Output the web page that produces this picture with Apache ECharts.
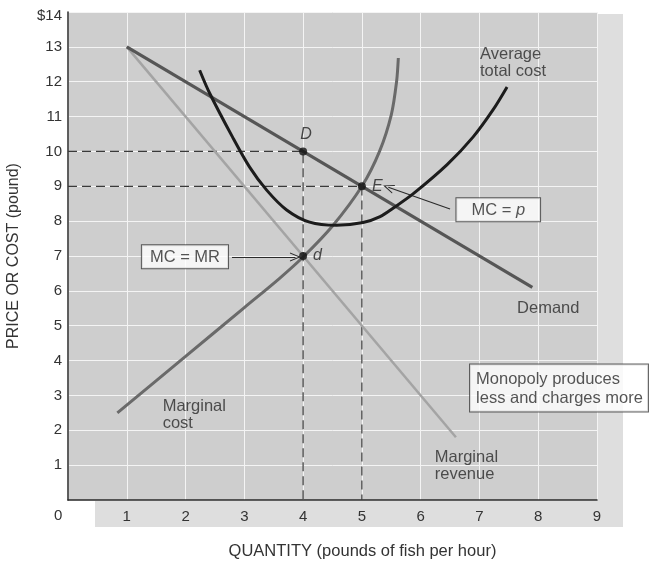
<!DOCTYPE html>
<html>
<head>
<meta charset="utf-8">
<script src="https://cdn.jsdelivr.net/npm/echarts@6/dist/echarts.min.js"></script>
<style>
html,body{margin:0;padding:0;background:#fff;}
#chart{width:653px;height:561px;}
</style>
</head>
<body>
<div id="chart"></div>
<script>
// ---- data ----
var xTicks = [0,1,2,3,4,5,6,7,8,9];
var yTicks = [0,1,2,3,4,5,6,7,8,9,10,11,12,13,14];
var demand = [[1,13],[7.9,6.1]];
var marginalRevenue = [[1,13],[6.6,1.8]];
var marginalCost = [[0.84,2.5],[2,4.12],[3,5.52],[3.6,6.36],[4,6.97],[4.5,7.86],[5,9.0],[5.3,10.0],[5.5,11.05],[5.59,12.0],[5.62,12.68]];
var averageTotalCost = [[2.24,12.33],[2.41,11.67],[2.8,10.41],[3.09,9.55],[3.38,8.89],[3.72,8.32],[4.11,7.97],[4.57,7.88],[5.02,7.96],[5.31,8.13],[5.53,8.37],[5.87,8.78],[6.45,9.62],[6.89,10.41],[7.23,11.19],[7.47,11.85]];
var keyPoints = [[4,10,'D'],[5,9,'E'],[4,7,'d']];
var monopolyGuide = [[0,10],[4,10],[4,0]];
var competitiveGuide = [[0,9],[5,9],[5,0]];
var curveLabels = [[7.01,12.55,'Average\ntotal cost'],[7.64,5.5,'Demand'],[1.61,2.45,'Marginal\ncost'],[6.24,0.97,'Marginal\nrevenue']];

var FONT = 'Liberation Sans, Arial, Helvetica, sans-serif';
var chevron = 'path://M0,12 L6,0 L12,12 L10.6,12 L6,2.8 L1.4,12 Z';

var chart = echarts.init(document.getElementById('chart'), null, {renderer:'canvas'});

var option = {
  animation: false,
  backgroundColor: '#ffffff',
  textStyle: {fontFamily: FONT},
  graphic: [
    {type:'rect', z:-10, silent:true, shape:{x:597,y:14,width:26,height:513}, style:{fill:'#dedede'}},
    {type:'rect', z:-10, silent:true, shape:{x:95,y:500,width:528,height:27}, style:{fill:'#dedede'}},
    {type:'text', left:54, top:508, style:{text:'0', font:'15px '+FONT, fill:'#333'}}
  ],
  grid: {left:68, right:56, top:12, bottom:61, show:true, backgroundColor:'#cecece', borderWidth:0, containLabel:false, outerBoundsMode:'none'},
  xAxis: {
    type:'value', min:0, max:9, interval:1,
    name:'QUANTITY (pounds of fish per hour)', nameLocation:'middle', nameGap:43,
    nameTextStyle:{fontSize:16.5, color:'#333', fontFamily:FONT, padding:[0,0,0,60]},
    axisLine:{show:true, onZero:false, lineStyle:{color:'#2a2a2a', width:1.5}},
    axisTick:{show:false},
    axisLabel:{fontSize:15, color:'#333', margin:9, formatter:function(v){return v===0?'':String(v);}},
    splitLine:{show:true, lineStyle:{color:'#f4f4f4', width:1}}
  },
  yAxis: {
    type:'value', min:0, max:14, interval:1,
    name:'PRICE OR COST (pound)', nameLocation:'middle', nameGap:46,
    nameTextStyle:{fontSize:16, color:'#333', fontFamily:FONT},
    axisLine:{show:true, onZero:false, lineStyle:{color:'#2a2a2a', width:1.5}},
    axisTick:{show:false},
    axisLabel:{fontSize:15, color:'#333', margin:6,
      formatter:function(v){return v===14?'{t|$14}':(v===0?'':String(v));},
      rich:{t:{fontSize:15, color:'#333', fontFamily:FONT, padding:[7,0,0,0]}}},
    splitLine:{show:true, lineStyle:{color:'#f4f4f4', width:1}}
  },
  series: [
    {type:'line', name:'monopoly guide', data:monopolyGuide, symbol:'none', silent:true,
     lineStyle:{color:'#3a3a3a', width:1.2, type:[9,5]}, z:2},
    {type:'line', name:'competitive guide', data:competitiveGuide, symbol:'none', silent:true,
     lineStyle:{color:'#3a3a3a', width:1.2, type:[9,5]}, z:2},
    {type:'line', name:'Marginal revenue', data:marginalRevenue, symbol:'none',
     lineStyle:{color:'#a4a4a4', width:2.5}, z:3},
    {type:'line', name:'Demand', data:demand, symbol:'none',
     lineStyle:{color:'#565656', width:3.2}, z:4},
    {type:'line', name:'Marginal cost', data:marginalCost, symbol:'none', smooth:0.3,
     lineStyle:{color:'#6a6a6a', width:3}, z:4},
    {type:'line', name:'Average total cost', data:averageTotalCost, symbol:'none', smooth:0.3,
     lineStyle:{color:'#1c1c1c', width:3}, z:5},
    {type:'scatter', name:'points', z:8, symbolSize:8,
     itemStyle:{color:'#111'},
     data:keyPoints.map(function(p){
       var item = {value:[p[0],p[1]], name:p[2]};
       if (p[2]==='D') item.label = {position:'top', distance:5, offset:[3,0]};
       return item;
     }),
     label:{show:true, formatter:function(o){return o.name;}, fontStyle:'italic', fontSize:16, color:'#222', fontFamily:FONT,
            position:'right', distance:6}
    },
    {type:'scatter', name:'curve labels', z:9, symbolSize:0, silent:true, clip:false,
     data:curveLabels.map(function(p){return {value:[p[0],p[1]], name:p[2]};}),
     label:{show:true, position:'inside', align:'left', verticalAlign:'middle', formatter:function(o){return o.name;},
            fontSize:16.5, lineHeight:17, color:'#2a2a2a', fontFamily:FONT}
    },
    {type:'scatter', name:'annotations', z:10, symbolSize:0, silent:true, clip:false,
     data:[
       {value:[1.99,6.98], label:{formatter:'MC = MR'}},
       {value:[7.32,8.33], label:{formatter:'MC = {i|p}', padding:[3,15,2,15]}},
       {value:[6.84,3.21], label:{formatter:'Monopoly produces\nless and charges more', align:'left', lineHeight:19, padding:[5,5,4,6]}}
     ],
     label:{show:true, position:'inside', align:'center', verticalAlign:'middle',
            backgroundColor:'#ffffff', borderColor:'#3a3a3a', borderWidth:1,
            padding:[3,8,2,8], fontSize:16.5, lineHeight:18, color:'#2a2a2a', fontFamily:FONT,
            rich:{i:{fontStyle:'italic', fontSize:16.5, color:'#2a2a2a', fontFamily:FONT}}},
     markLine:{
       silent:true, symbol:['none', chevron], symbolSize:[9,11], label:{show:false},
       lineStyle:{color:'#2a2a2a', width:1.1, type:'solid'},
       data:[
         [{coord:[2.79,6.97]},{coord:[3.87,6.97]}],
         [{coord:[6.5,8.35]},{coord:[5.45,8.97]}]
       ]
     }
    }
  ]
};
chart.setOption(option);
</script>
</body>
</html>
